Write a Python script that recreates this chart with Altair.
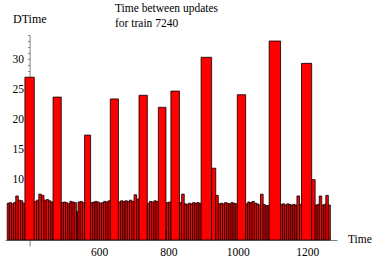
import altair as alt
import numpy as np
import pandas as pd

# time of the first update shown and the time between consecutive updates (DTime)
first_update = 335.4
dtime = [
    6.1, 6.2, 6.0, 6.2, 7.3, 6.6, 6.5, 6.1,
    27.0,
    6.4, 6.6, 7.6, 7.4, 6.6, 6.7, 6.5, 6.3,
    23.7,
    6.2, 6.3, 6.2, 6.0, 6.4, 6.3, 6.2, 4.7, 6.3, 6.4, 6.2,
    17.4,
    6.2, 6.3, 6.4, 6.3, 6.1, 6.2, 6.4, 6.3, 6.5,
    23.4,
    6.3, 6.5, 6.4, 6.5, 6.4, 6.6, 6.4, 7.5, 6.8,
    24.0,
    6.1, 6.4, 6.3, 6.5, 6.4,
    22.0,
    1.7, 6.2, 6.3,
    24.7,
    6.2, 7.6, 6.0, 5.9, 6.1, 6.0, 6.2, 6.1, 6.2, 6.1,
    30.3, 11.9,
    7.4, 6.0, 6.1, 6.0, 6.2, 6.1, 6.0, 6.2, 6.1, 6.0,
    24.1,
    6.0, 6.3, 6.2, 6.4, 6.1, 6.0, 5.8, 7.6, 5.9, 5.7, 5.7,
    33.0,
    5.9, 6.0, 5.8, 6.0, 5.9, 5.8, 5.9, 5.8, 7.3, 5.9,
    29.3, 10.0,
    5.8, 5.9, 7.3, 5.8, 5.9, 7.4, 5.8,
]

title_lines = ["Time between updates", "for train 7240"]
x_ticks = [400, 600, 800, 1000, 1200]

times = first_update + np.cumsum(dtime)
df = pd.DataFrame({"Time": times, "DTime": dtime, "Prev": times - np.array(dtime)})

W, H = 332, 211
serif = "Liberation Serif"

bars = alt.Chart(df).mark_rect(
    fill="#ff0000", stroke="#000000", strokeWidth=0.8
).encode(
    x=alt.X("Prev:Q",
            scale=alt.Scale(domain=[329, 1286], nice=False, zero=False),
            axis=alt.Axis(values=x_ticks, format="d",
                          labelExpr="datum.value == 400 ? '' : datum.label",
                          ticks=False, grid=False, title=None,
                          domainColor="#808080", domainWidth=1,
                          labelFont=serif, labelFontSize=11.5, labelColor="black",
                          labelPadding=6, offset=-6)),
    x2="Time:Q",
    y=alt.Y("DTime:Q",
            scale=alt.Scale(domain=[-1, 34], nice=False, zero=False),
            axis=alt.Axis(values=list(range(0, 35)), format="d",
                          labelExpr="datum.value >= 10 && datum.value % 5 == 0 ? datum.label : ''",
                          tickSize=2, tickColor="#808080", grid=False, title=None,
                          domainColor="#808080", domainWidth=1,
                          labelFont=serif, labelFontSize=11.5, labelColor="black",
                          labelPadding=4, offset=-24.6)),
    y2=alt.datum(0),
)


def label(txt, x, y, size):
    return alt.Chart(pd.DataFrame({"t": [txt]})).mark_text(
        font=serif, fontSize=size, color="black", align="left", baseline="alphabetic"
    ).encode(text="t:N", x=alt.value(x), y=alt.value(y))


layers = [bars,
          label(title_lines[0], 110, -23.5, 11.5),
          label(title_lines[1], 110, -8.3, 11.5),
          label("DTime", 8, -12, 12),
          label("Time", 343, 208, 11.5)]

chart = alt.layer(*layers).properties(
    width=W, height=H,
    autosize=alt.AutoSizeParams(type="none"),
    padding={"left": 5, "top": 35, "right": 37, "bottom": 13},
).configure_view(stroke=None)

chart.save("out.html", embed_options={"renderer": "svg", "actions": False})
